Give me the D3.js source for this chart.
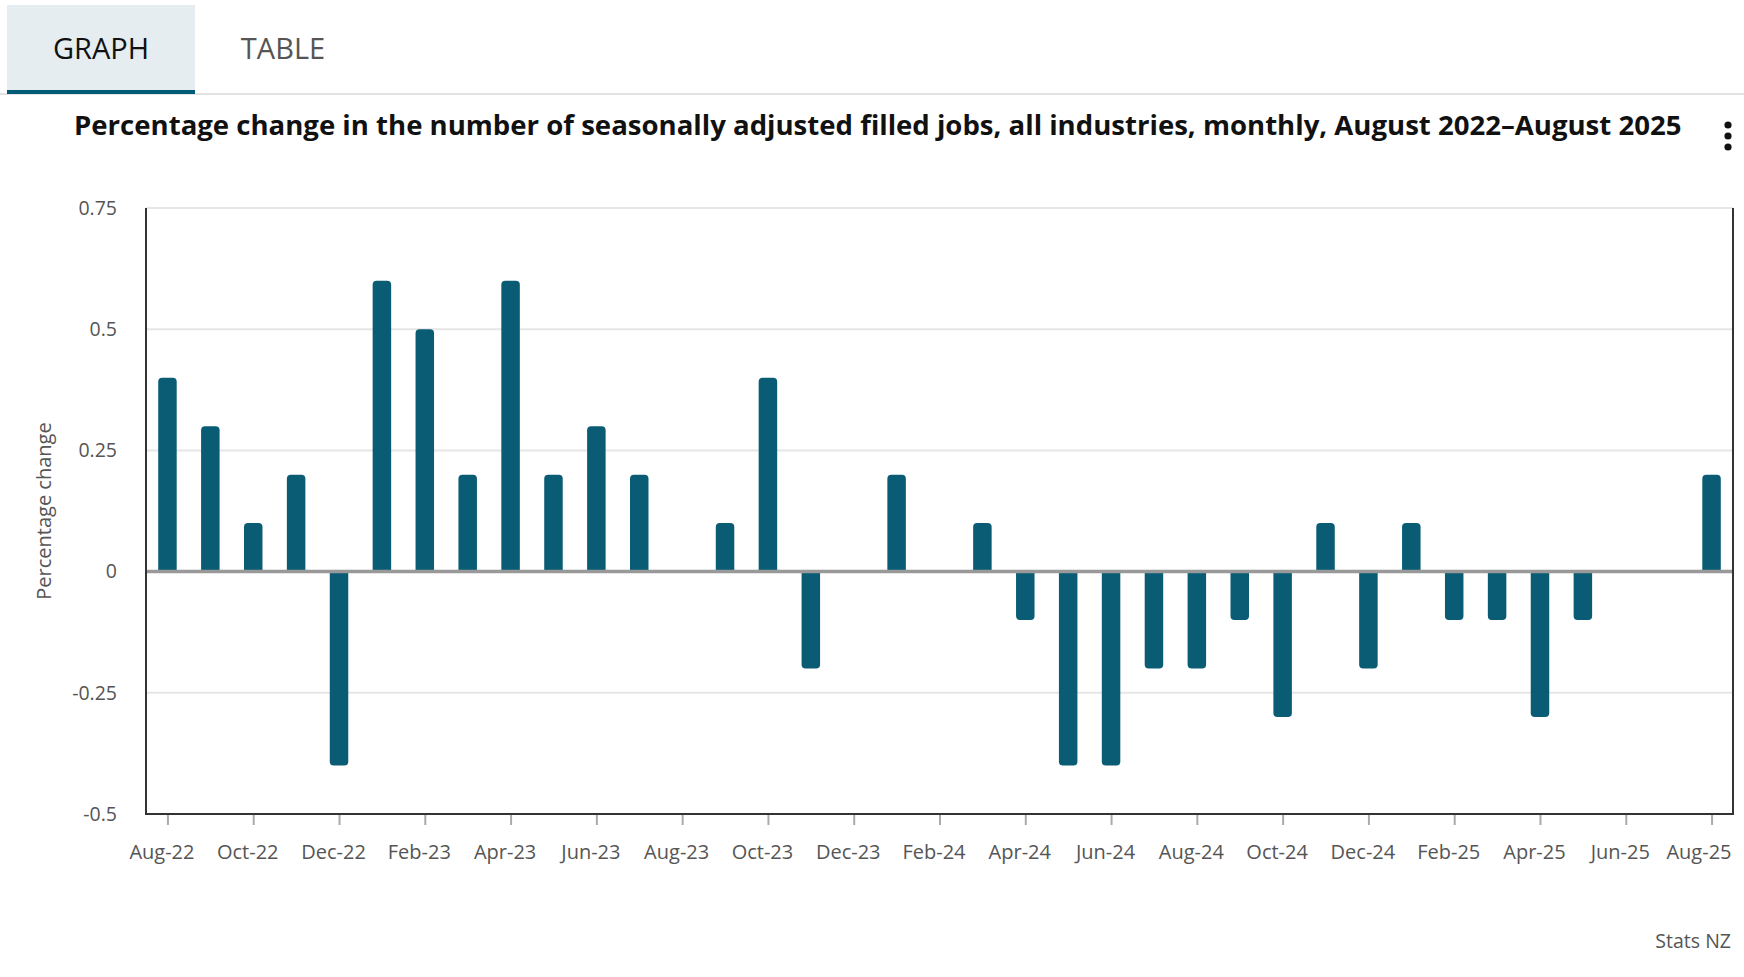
<!DOCTYPE html>
<html>
<head>
<meta charset="utf-8">
<script src="https://cdn.jsdelivr.net/npm/d3@7"></script>
<style>
  body { margin: 0; background: #fff; }
  svg text { font-family: "Open Sans", sans-serif; }
</style>
</head>
<body>
<div id="chart"></div>
<script>
const months = [
  "Aug-22","Sep-22","Oct-22","Nov-22","Dec-22","Jan-23","Feb-23","Mar-23","Apr-23","May-23","Jun-23","Jul-23",
  "Aug-23","Sep-23","Oct-23","Nov-23","Dec-23","Jan-24","Feb-24","Mar-24","Apr-24","May-24","Jun-24","Jul-24",
  "Aug-24","Sep-24","Oct-24","Nov-24","Dec-24","Jan-25","Feb-25","Mar-25","Apr-25","May-25","Jun-25","Jul-25",
  "Aug-25"
];
const change = [
  0.4, 0.3, 0.1, 0.2, -0.4, 0.6, 0.5, 0.2, 0.6, 0.2, 0.3, 0.2,
  0, 0.1, 0.4, -0.2, 0, 0.2, 0, 0.1, -0.1, -0.4, -0.4, -0.2,
  -0.2, -0.1, -0.3, 0.1, -0.2, 0.1, -0.1, -0.1, -0.3, -0.1, 0, 0,
  0.2
];
const yTicks = [-0.5, -0.25, 0, 0.25, 0.5, 0.75];
const xTickLabels = months.filter((d, i) => i % 2 === 0);

const width = 1744, height = 977;
const plotLeft = 146, plotRight = 1733, plotTop = 208, plotBottom = 814;

const svg = d3.select("#chart").append("svg")
  .attr("width", width).attr("height", height);

// tabs
svg.append("rect").attr("x", 7).attr("y", 5).attr("width", 188).attr("height", 88).attr("fill", "#e5edf0");
svg.append("line").attr("x1", 0).attr("x2", width).attr("y1", 94).attr("y2", 94)
  .attr("stroke", "#e3e3e3").attr("stroke-width", 2);
svg.append("rect").attr("x", 7).attr("y", 90).attr("width", 188).attr("height", 4).attr("fill", "#005b76");
svg.append("text").attr("x", 101).attr("y", 59).attr("text-anchor", "middle")
  .attr("font-size", 29).attr("fill", "#111").text("GRAPH");
svg.append("text").attr("x", 283).attr("y", 59).attr("text-anchor", "middle")
  .attr("font-size", 29).attr("fill", "#555").text("TABLE");

// title
const title = svg.append("text").attr("x", 74).attr("y", 135)
  .attr("font-size", 27).attr("font-weight", 700).attr("fill", "#111")
  .text("Percentage change in the number of seasonally adjusted filled jobs, all industries, monthly, August 2022\u2013August 2025");
const tw = title.node().getComputedTextLength();
title.attr("font-size", 27 * 1608 / tw);

// menu dots
[125, 136, 147].forEach(cy => {
  svg.append("circle").attr("cx", 1728).attr("cy", cy).attr("r", 3.6).attr("fill", "#111");
});

const x = d3.scalePoint().domain(months).range([plotLeft, plotRight]).padding(0.5);
const y = d3.scaleLinear().domain([-0.5, 0.75]).range([plotBottom, plotTop]);

// gridlines
svg.append("g").selectAll("line").data(yTicks.filter(d => d !== 0 && d !== -0.5)).join("line")
  .attr("x1", plotLeft).attr("x2", plotRight)
  .attr("y1", d => y(d)).attr("y2", d => y(d))
  .attr("stroke", "#e6e6e6").attr("stroke-width", 2);

// y tick labels (plain hyphen minus like the original)
svg.append("g").selectAll("text").data(yTicks).join("text")
  .attr("x", 117).attr("y", d => y(d)).attr("dy", "0.35em")
  .attr("text-anchor", "end").attr("font-size", 19.5).attr("fill", "#555")
  .text(d => String(d));

svg.append("text")
  .attr("transform", `translate(51, ${(plotTop + plotBottom) / 2}) rotate(-90)`)
  .attr("text-anchor", "middle").attr("font-size", 20).attr("fill", "#555")
  .text("Percentage change");

// bars with rounded outer end
const bw = 18.5, r = 4;
const barPath = (d, i) => {
  const cx = x(months[i]);
  const x0 = cx - bw / 2, x1 = cx + bw / 2;
  const y0 = y(0), y1 = y(d);
  if (d === 0) return "";
  if (d > 0) {
    return `M${x0},${y0} L${x0},${y1 + r} Q${x0},${y1} ${x0 + r},${y1} L${x1 - r},${y1} Q${x1},${y1} ${x1},${y1 + r} L${x1},${y0} Z`;
  }
  return `M${x0},${y0} L${x0},${y1 - r} Q${x0},${y1} ${x0 + r},${y1} L${x1 - r},${y1} Q${x1},${y1} ${x1},${y1 - r} L${x1},${y0} Z`;
};
svg.append("g").selectAll("path").data(change).join("path")
  .attr("d", barPath).attr("fill", "#0a5c75");

// zero line
svg.append("line").attr("x1", plotLeft).attr("x2", plotRight).attr("y1", y(0)).attr("y2", y(0))
  .attr("stroke", "#999").attr("stroke-width", 3.5);

// x axis
const xAxis = d3.axisBottom(x).tickValues(xTickLabels).tickSize(11).tickPadding(20);
const gx = svg.append("g").attr("transform", `translate(0, ${plotBottom})`).call(xAxis);
gx.select(".domain").remove();
gx.selectAll(".tick line").attr("stroke", "#aaa").attr("stroke-width", 2);
gx.selectAll(".tick text").attr("font-size", 20).attr("fill", "#555")
  .attr("font-family", "Open Sans, sans-serif")
  .attr("dx", -6);
// last label kept inside the frame
gx.selectAll(".tick").filter(d => d === months[months.length - 1]).select("text")
  .attr("text-anchor", "end").attr("dx", 0)
  .attr("x", plotRight - 2 - x(months[months.length - 1]));

// frame: left, bottom, right
svg.append("path")
  .attr("d", `M${plotLeft},${plotTop} L${plotLeft},${plotBottom} L${plotRight},${plotBottom} L${plotRight},${plotTop}`)
  .attr("fill", "none").attr("stroke", "#333").attr("stroke-width", 2);

svg.append("text").attr("x", 1731).attr("y", 948).attr("text-anchor", "end")
  .attr("font-size", 19.5).attr("fill", "#555").text("Stats NZ");
</script>
</body>
</html>
